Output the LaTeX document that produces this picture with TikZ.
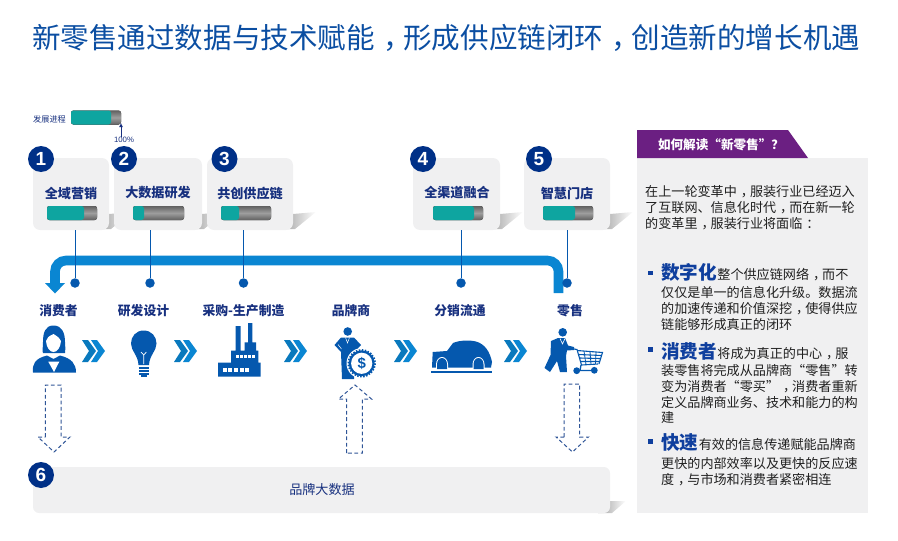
\documentclass[tikz,border=0pt]{standalone}
\usetikzlibrary{arrows.meta}
\usepackage{fontspec}
\setmainfont{Noto Sans CJK SC}
\newfontfamily\latinfont{Liberation Sans}
\definecolor{navy}{HTML}{17307F}
\definecolor{badgeblue}{HTML}{003087}
\definecolor{iconblue}{HTML}{0558AE}
\definecolor{flowblue}{HTML}{0A86D2}
\definecolor{panelgray}{HTML}{F0F0F1}
\definecolor{tealbar}{HTML}{0EA5A0}
\definecolor{plum}{HTML}{6B1F82}
\definecolor{headblue}{HTML}{0F3F9E}
\definecolor{titleblue}{HTML}{0B4EA2}
\definecolor{dashblue}{HTML}{2F5597}
% full-width punctuation set in the middle of its cell
\newcommand{\zc}{\kern.3em\char"FF0C\relax\kern-.3em}
\newcommand{\zm}{\kern.3em\char"FF1A\relax\kern-.3em}
\newcommand{\zq}{\char"FF1F\relax}
\tikzset{
  cardbox/.style={fill=panelgray,rounded corners=7pt,inner sep=0pt},
  badge/.style={circle,fill=badgeblue,text=white,minimum size=26pt,inner sep=0pt,font=\latinfont\bfseries\fontsize{19}{19}\selectfont},
  cardtext/.style={text=navy,inner sep=0pt,font=\bfseries\fontsize{13.1}{14}\selectfont},
  stagetext/.style={text=navy,inner sep=0pt,font=\bfseries\fontsize{12.8}{14}\selectfont},
  bodytext/.style={text=black!88,inner sep=0pt,anchor=north west,align=left,font=\fontsize{13.1}{15.6}\selectfont},
  keyword/.style={text=headblue,inner sep=0pt,anchor=base west,font=\bfseries\fontsize{18.6}{20}\selectfont},
  dot/.style={circle,fill=iconblue,minimum size=9.5pt,inner sep=0pt},
  leader/.style={draw=iconblue,line width=0.9pt},
  dashedarrow/.style={draw=dashblue,line width=1pt,dash pattern=on 3.8pt off 2.6pt},
  icon/.style={fill=iconblue,draw=none},
}
% progress bar: left end, end of the filled part, right end, top edge
\newcommand{\progbar}[4]{%
  \fill[rounded corners=2.5pt,top color=black!62,bottom color=black!62,middle color=black!38] (#1,#4) rectangle (#3,#4+14);
  \fill[rounded corners=2.5pt,fill=tealbar] (#1,#4) rectangle (#2,#4+14);
}
% soft shadow thrown to the right of a card: right edge and bottom edge
\newcommand{\cardshadow}[2]{%
  \shade[left color=black!38,right color=white] (#1-12,#2) -- (#1+2,#2) -- (#1+23,#2-17) -- (#1,#2-15) -- cycle;
}
% double chevron: left edge and top edge
\newcommand{\chevrons}[2]{%
  \fill[fill=flowblue!90!black] (#1,#2) -- (#1+6,#2) -- (#1+14,#2+11) -- (#1+6,#2+22) -- (#1,#2+22) -- (#1+7,#2+11) -- cycle;
  \fill[fill=flowblue] (#1+9,#2) -- (#1+15,#2) -- (#1+23,#2+11) -- (#1+15,#2+22) -- (#1+9,#2+22) -- (#1+16,#2+11) -- cycle;
}
\begin{document}
\begin{tikzpicture}[x=1pt,y=-1pt]
\useasboundingbox (0,0) rectangle (898,541);

% headline
\node[anchor=west,inner sep=0pt,text=titleblue,font=\fontsize{28.55}{30}\selectfont] (title) at (32,38) {新零售通过数据与技术赋能\zc 形成供应链闭环\zc 创造新的增长机遇};

% legend
\node[text=navy,inner sep=0pt,font=\fontsize{8.2}{9}\selectfont] (legendtext) at (49.5,119) {发展进程};
\progbar{71}{111}{121}{110.5}
\coordinate (legendtip) at (121,123);
\node[text=navy,inner sep=0pt,font=\latinfont\fontsize{7.8}{9}\selectfont] (hundred) at (124,140) {100\%};
\draw[draw=navy,line width=0.8pt,-{Latex[length=4pt,width=4pt]}] (hundred.north -| legendtip) -- (legendtip);

% card shadows
\cardshadow{109}{229}
\cardshadow{202}{229}
\cardshadow{293}{229}
\cardshadow{500}{229}
\cardshadow{610}{229}
\shade[left color=black!38,right color=white] (598,513) -- (612,513) -- (626,501) -- (610,501) -- cycle;

% cards
\node[cardbox,minimum width=76pt,minimum height=72pt] (card1) at (71,194) {};
\node[cardbox,minimum width=88pt,minimum height=72pt] (card2) at (158,194) {};
\node[cardbox,minimum width=86pt,minimum height=72pt] (card3) at (250,194) {};
\node[cardbox,minimum width=87pt,minimum height=72pt] (card4) at (456.5,194) {};
\node[cardbox,minimum width=86pt,minimum height=72pt] (card5) at (567,194) {};

\node[cardtext] (cardtext1) at (71,193) {全域营销};
\node[cardtext] (cardtext2) at (158,193) {大数据研发};
\node[cardtext] (cardtext3) at (250,193) {共创供应链};
\node[cardtext] (cardtext4) at (457,193) {全渠道融合};
\node[cardtext] (cardtext5) at (567,193) {智慧门店};

\progbar{47}{84}{97}{206}
\progbar{133}{144}{184}{206}
\progbar{221}{239}{271}{206}
\progbar{433}{474}{483}{206}
\progbar{543}{575}{593}{206}

% return flow along the chain
\coordinate (flowstart) at (558.5,293);
\coordinate (flowtopright) at (558.5,260.5);
\coordinate (flowtopleft) at (55,260.5);
\coordinate (flowend) at (55,284);
\draw[draw=flowblue,line width=9.6pt,rounded corners=11pt] (flowstart) -- (flowtopright) -- (flowtopleft) -- (flowend);
\fill[flowblue] (45,283) -- (65,283) -- (55,293.5) -- cycle;

% stage markers and their leaders
\node[dot] (dot1) at (75,283) {};
\node[dot] (dot2) at (150,283) {};
\node[dot] (dot3) at (243.5,283) {};
\node[dot] (dot4) at (461,283) {};
\node[dot] (dot5) at (567,283) {};
\draw[leader] (card1.south -| dot1) -- (dot1);
\draw[leader] (card2.south -| dot2) -- (dot2);
\draw[leader] (card3.south -| dot3) -- (dot3);
\draw[leader] (card4.south -| dot4) -- (dot4);
\draw[leader] (card5.south -| dot5) -- (dot5);

% stage names
\node[stagetext] (stage1) at (58.5,311) {消费者};
\node[stagetext] (stage2) at (143.5,311) {研发设计};
\node[stagetext] (stage3) at (243.5,311) {采购-生产制造};
\node[stagetext] (stage4) at (351,311) {品牌商};
\node[stagetext] (stage5) at (460,311) {分销流通};
\node[stagetext] (stage6) at (570,311) {零售};

\chevrons{82}{340}
\chevrons{174}{340}
\chevrons{284}{340}
\chevrons{394}{340}
\chevrons{504}{340}

% consumer
\fill[icon] (53.5,325.5) .. controls (45,325.5) and (43,333) .. (43,342) .. controls (43,348) and (42,351) .. (43,353) -- (65,353) .. controls (66,350) and (65,347) .. (65,342) .. controls (65,333) and (62,325.5) .. (53.5,325.5) -- cycle;
\fill[white] (53.5,334) .. controls (49,336) and (46.5,338) .. (46,341) .. controls (46.5,348) and (50,352) .. (53.5,352) .. controls (57,352) and (60.5,348) .. (61,341) .. controls (60,338) and (58,337) .. (53.5,334) -- cycle;
\fill[icon] (33,372.5) .. controls (32,364) and (35,358.5) .. (47,355.5) -- (53.5,359) -- (60,355.5) .. controls (72,358.5) and (76,364) .. (76,372.5) -- cycle;
\fill[white] (48.3,361.7) -- (59.3,361.7) -- (54,372) -- cycle;

% light bulb
\fill[icon] (143.7,330.5) .. controls (136,330.5) and (131,336.5) .. (131,343.5) .. controls (131,351) and (138,355) .. (138.5,365) -- (149,365) .. controls (149.5,355) and (156.5,351) .. (156.5,343.5) .. controls (156.5,336.5) and (151.5,330.5) .. (143.7,330.5) -- cycle;
\draw[white,line width=0.7pt] (143.7,364) -- (143.7,355) -- (141,352) (143.7,355) -- (146.4,352);
\fill[icon] (138.5,366.5) rectangle (149,368.5);
\fill[icon] (138.5,369.7) rectangle (149,371.7);
\fill[icon] (139,372.9) rectangle (148.5,374.7);
\fill[icon] (141,375.4) rectangle (146.5,377);

% factory
\fill[icon] (218,376.7) -- (218,362.7) -- (231,362.7) -- (231,350.7) -- (235.7,350.7) -- (235.7,326) -- (240.7,326) -- (240.7,350.7) -- (244.7,350.7) -- (244.7,342.3) -- (248,342.3) -- (248,323) -- (252.3,323) -- (252.3,342.3) -- (256,342.3) -- (256,350.7) -- (258.3,350.7) -- (258.3,362.7) -- (260.7,362.7) -- (260.7,376.7) -- cycle;
\foreach \wx in {222.5,228.2,233.9,239.6,245.3} \fill[white] (\wx,368.3) rectangle +(4,4);
\foreach \wy in {236,240,244,248,252} \fill[white] (\wy,355) rectangle +(2.6,3);

% brand owner with coin
\fill[icon] (347.7,331.5) circle (4.3);
\fill[icon] (341,337.5) -- (354,337.5) -- (361,345) -- (355.5,351) -- (354,379) -- (342,379) -- (341,352) -- (334.5,345) -- cycle;
\draw[white,line width=0.5pt] (345.5,337.5) -- (347.5,343) -- (349.5,337.5);
\draw[white,line width=0.5pt] (338,344.5) -- (341.5,349);
\fill[white] (361.7,363.3) circle (15.2);
\fill[icon] (361.7,363.3) circle (13);
\draw[draw=iconblue,line width=1.6pt,dash pattern=on 1.5pt off 1.5pt] (361.7,363.3) circle (13.4);
\fill[white] (361.7,363.3) circle (10.6);
\node[text=iconblue,inner sep=0pt,font=\latinfont\bfseries\fontsize{15}{15}\selectfont] (coin) at (361.7,363.3) {\$};

% delivery car
\fill[icon] (432,367.5) -- (432.7,352) -- (447,351) -- (453,343) .. controls (460,340) and (470,340) .. (476,341.5) .. controls (485,344) and (490,352) .. (492,362) -- (491,367.5) -- cycle;
\fill[white] (436,368) -- (436,364.5) .. controls (436,360) and (439,357) .. (442,357) .. controls (445,357) and (448,360) .. (448,364.5) -- (448,368) -- cycle;
\fill[icon] (437,369) -- (437,364.5) .. controls (437,361) and (439,358) .. (442,358) .. controls (445,358) and (447,361) .. (447,364.5) -- (447,369) -- cycle;
\fill[white] (472.5,368) -- (472.5,364.5) .. controls (472.5,360) and (475.5,357) .. (478.5,357) .. controls (481.5,357) and (484.5,360) .. (484.5,364.5) -- (484.5,368) -- cycle;
\fill[icon] (473.5,369) -- (473.5,364.5) .. controls (473.5,361) and (475.5,358) .. (478.5,358) .. controls (481.5,358) and (483.5,361) .. (483.5,364.5) -- (483.5,369) -- cycle;
\fill[icon] (431,371) rectangle (492,373.3);

% shopper with cart
\fill[icon] (562.7,332.3) circle (4.3);
\fill[icon] (551,341) -- (558,338) -- (565,338) -- (568,345.5) -- (574,347) -- (574,350) -- (567,350.5) -- (566,356) -- (567,372) -- (560,372) -- (557,361) -- (550,372) -- (544.5,368) -- (550.5,355) -- cycle;
\draw[white,line width=0.6pt] (560,338.5) -- (562.5,344) -- (565,338.5);
\draw[iconblue,line width=1.1pt] (574,349) -- (577,349.5) -- (581.5,365) -- (598,364) (577,350.5) -- (602.5,352.5) -- (599,364) (578.5,354.5) -- (601.5,355.5) (579.5,358) -- (600.5,358.5) (580.5,361.5) -- (599.5,361.5);
\draw[iconblue,line width=0.8pt] (584,351) -- (586,364.5) (590,351.5) -- (591,364.5) (596,352) -- (595.5,364);
\draw[iconblue,line width=1.3pt] (581,365) -- (580,370.5) -- (594,370.5);
\fill[icon] (576.7,370.7) circle (3.4);
\fill[icon] (594.3,370.3) circle (3.4);

% data exchange with the brand data pool
\draw[dashedarrow] (45.3,437) -- (45.3,385) -- (61,385) -- (61,437) -- (70,437) -- (54,452) -- (38,437) -- cycle;
\draw[dashedarrow] (346.7,453) -- (346.7,399) -- (338.5,399) -- (355,385) -- (371.5,399) -- (362.3,399) -- (362.3,453) -- cycle;
\draw[dashedarrow] (564,437) -- (564,384) -- (579.7,384) -- (579.7,437) -- (588.5,437) -- (572.5,452) -- (556,437) -- cycle;

% brand data pool
\node[fill=panelgray,rounded corners=6pt,inner sep=0pt,minimum width=577pt,minimum height=46pt] (pool) at (321.5,490) {};
\node[cardtext,font=\fontsize{13.1}{14}\selectfont] (pooltext) at (322,490) {品牌大数据};

% numbered badges
\node[badge] (badge1) at (41,159) {1};
\node[badge] (badge2) at (124,159) {2};
\node[badge] (badge3) at (224.5,159) {3};
\node[badge] (badge4) at (423,159) {4};
\node[badge] (badge5) at (539,159) {5};
\node[badge] (badge6) at (41,475) {6};

% side panel
\fill[panelgray] (637,158) rectangle (868,513);
\fill[plum] (637,130) -- (788,130) -- (808,158) -- (637,158) -- cycle;
\node[text=white,inner sep=0pt,font=\bfseries\fontsize{12.6}{14}\selectfont] (paneltitle) at (721,145) {如何解读“新零售”\zq};
\node[bodytext,font=\fontsize{13.1}{16}\selectfont] (intro) at (645,185) {在上一轮变革中\zc 服装行业已经迈入\\了互联网、信息化时代\zc 而在新一轮\\的变革里\zc 服装行业将面临\zm};

\fill[headblue] (648,270.5) rectangle (652.5,275);
\node[keyword] (key1) at (661,279.5) {数字化};
\node[bodytext,anchor=base west] (key1a) at (key1.base east) {整个供应链网络\zc 而不};
\node[bodytext] (key1b) at (661,286.5) {仅仅是单一的信息化升级。数据流\\的加速传递和价值深挖\zc 使得供应\\链能够形成真正的闭环};

\fill[headblue] (648,347) rectangle (652.5,351.5);
\node[keyword] (key2) at (661,358.5) {消费者};
\node[bodytext,anchor=base west] (key2a) at (key2.base east) {将成为真正的中心\zc 服};
\node[bodytext] (key2b) at (661,364.5) {装零售将完成从品牌商“零售”转\\变为消费者“零买”\zc 消费者重新\\定义品牌商业务、技术和能力的构\\建};

\fill[headblue] (648,439) rectangle (652.5,443.5);
\node[keyword] (key3) at (661,449.5) {快速};
\node[bodytext,anchor=base west] (key3a) at (key3.base east) {有效的信息传递赋能品牌商};
\node[bodytext] (key3b) at (661,457.5) {更快的内部效率以及更快的反应速\\度\zc 与市场和消费者紧密相连};
\end{tikzpicture}
\end{document}
